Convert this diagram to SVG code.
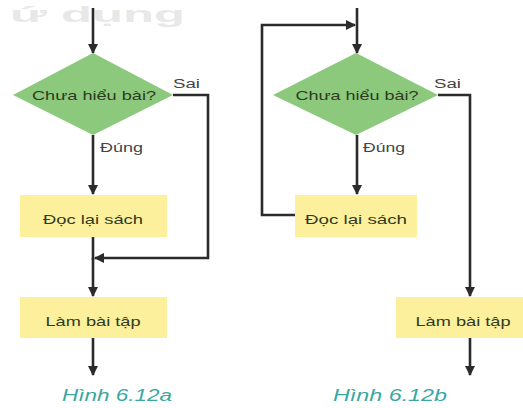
<svg xmlns="http://www.w3.org/2000/svg" width="523" height="408" viewBox="0 0 523 408">
<defs>
<marker id="ah" viewBox="0 0 10 10" refX="9" refY="5" markerWidth="4" markerHeight="4" orient="auto" markerUnits="strokeWidth">
<path d="M0,0 L10,5 L0,10 z" fill="#2b2b2b"/>
</marker>
<style>
.ln{fill:none;stroke:#2b2b2b;stroke-width:2.6}
.arr{marker-end:url(#ah)}
.dia{fill:#8cc97c}
.box{fill:#fcf09c}
.t{font-family:"Liberation Sans",Arial,sans-serif;font-size:13px;fill:#2f3a22;text-anchor:middle}
.lbl{font-family:"Liberation Sans",Arial,sans-serif;font-size:12px;fill:#444}
.cap{font-family:"Liberation Sans",Arial,sans-serif;font-size:16px;font-style:italic;fill:#3aa8a0;text-anchor:middle}
.hd{font-family:"Liberation Sans",Arial,sans-serif;font-size:22px;font-weight:bold;fill:#e8e8e8}
</style>
</defs>
<rect width="523" height="408" fill="#ffffff"/>
<text class="hd" x="10" y="22" textLength="175" lengthAdjust="spacingAndGlyphs">ứ dụng</text>

<g id="connectors">
<!-- left chart -->
<line class="ln arr" x1="93" y1="8" x2="93" y2="53"/>
<line class="ln arr" x1="93" y1="135" x2="93" y2="194"/>
<polyline class="ln arr" points="173,95 208,95 208,258 95,258"/>
<line class="ln" x1="93" y1="237" x2="93" y2="260"/>
<line class="ln arr" x1="93" y1="258" x2="93" y2="296"/>
<line class="ln arr" x1="93" y1="338" x2="93" y2="375"/>
<!-- right chart -->
<line class="ln arr" x1="357" y1="8" x2="357" y2="53"/>
<polyline class="ln arr" points="295,215 262,215 262,25 355,25"/>
<line class="ln arr" x1="357" y1="135" x2="357" y2="194"/>
<polyline class="ln arr" points="438,95 470,95 470,296"/>
<line class="ln arr" x1="470" y1="338" x2="470" y2="375"/>
</g>

<g id="left-decision">
<polygon class="dia" points="93,53 173,95 93,135 13,95"/>
<text class="t" x="94" y="100" textLength="124" lengthAdjust="spacingAndGlyphs">Chưa hiểu bài?</text>
</g>
<g id="left-sai"><text class="lbl" x="173" y="88" textLength="27" lengthAdjust="spacingAndGlyphs">Sai</text></g>
<g id="left-dung"><text class="lbl" x="100" y="152" textLength="43" lengthAdjust="spacingAndGlyphs">Đúng</text></g>
<g id="left-docsach">
<rect class="box" x="20" y="195" width="147" height="42"/>
<text class="t" x="93" y="224" textLength="100" lengthAdjust="spacingAndGlyphs">Đọc lại sách</text>
</g>
<g id="left-lambai">
<rect class="box" x="20" y="297" width="147" height="41"/>
<text class="t" x="93" y="326" textLength="95" lengthAdjust="spacingAndGlyphs">Làm bài tập</text>
</g>
<g id="caption-a"><text class="cap" x="117" y="401" textLength="110" lengthAdjust="spacingAndGlyphs">Hình 6.12a</text></g>

<g id="right-decision">
<polygon class="dia" points="356,53 438,95 356,135 273,95"/>
<text class="t" x="357" y="100" textLength="123" lengthAdjust="spacingAndGlyphs">Chưa hiểu bài?</text>
</g>
<g id="right-sai"><text class="lbl" x="434" y="88" textLength="27" lengthAdjust="spacingAndGlyphs">Sai</text></g>
<g id="right-dung"><text class="lbl" x="363" y="152" textLength="42" lengthAdjust="spacingAndGlyphs">Đúng</text></g>
<g id="right-docsach">
<rect class="box" x="295" y="195" width="122" height="42"/>
<text class="t" x="356" y="224" textLength="102" lengthAdjust="spacingAndGlyphs">Đọc lại sách</text>
</g>
<g id="right-lambai">
<rect class="box" x="396" y="297" width="127" height="41"/>
<text class="t" x="463" y="326" textLength="95" lengthAdjust="spacingAndGlyphs">Làm bài tập</text>
</g>
<g id="caption-b"><text class="cap" x="390" y="401" textLength="114" lengthAdjust="spacingAndGlyphs">Hình 6.12b</text></g>
</svg>
